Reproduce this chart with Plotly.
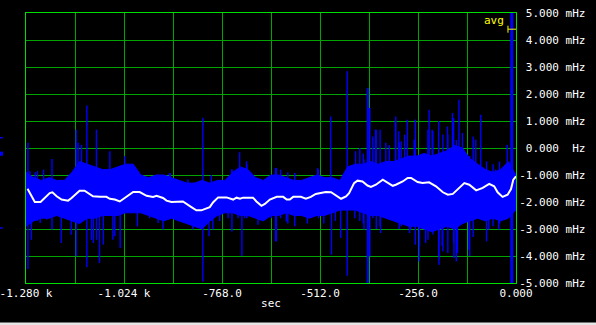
import plotly.graph_objects as go

# ---------------- data ----------------
band_t = [-1280, -1260, -1240, -1220, -1200, -1180, -1160, -1140, -1120, -1100,
          -1080, -1060, -1040, -1020, -1000, -980, -960, -940, -920, -900,
          -880, -860, -840, -820, -800, -780, -760, -740, -720, -700,
          -680, -660, -640, -620, -600, -580, -560, -540, -520, -500,
          -480, -460, -440, -420, -400, -380, -360, -340, -320, -300,
          -280, -260, -240, -220, -200, -180, -160, -140, -120, -100,
          -80, -60, -40, -20, 0]
band_hi = [-0.9, -1.1, -1.2, -1.1, -1.2, -1.2, -0.9, -0.5, -0.6, -0.7,
           -0.8, -0.8, -0.7, -0.6, -0.6, -1.0, -1.1, -1.0, -1.0, -1.1,
           -1.2, -1.3, -1.3, -1.2, -1.3, -1.2, -1.2, -0.9, -0.7, -0.8,
           -1.1, -1.2, -1.0, -1.0, -1.1, -1.2, -1.2, -1.1, -1.0, -1.1,
           -1.1, -1.2, -0.7, -0.6, -0.6, -0.5, -0.6, -0.5, -0.5, -0.4,
           -0.3, -0.3, -0.2, -0.3, -0.2, -0.1, 0.1, 0.0, -0.4, -0.6,
           -0.8, -0.9, -0.8, -0.5, -1.0]
band_lo = [-2.9, -2.7, -2.6, -2.6, -2.5, -2.6, -2.7, -2.8, -2.6, -2.6,
           -2.5, -2.5, -2.5, -2.4, -2.4, -2.4, -2.5, -2.6, -2.7, -2.6,
           -2.7, -2.8, -2.9, -3.0, -2.7, -2.5, -2.4, -2.4, -2.5, -2.5,
           -2.6, -2.7, -2.5, -2.5, -2.4, -2.5, -2.5, -2.6, -2.5, -2.5,
           -2.4, -2.3, -2.3, -2.3, -2.4, -2.5, -2.5, -2.6, -2.7, -2.8,
           -2.9, -2.9, -3.0, -3.1, -3.0, -2.9, -3.0, -2.8, -2.7, -2.6,
           -2.7, -2.6, -2.7, -2.6, -2.3]

# large spikes: time, top, bottom
spike_t = [-1275, -1270, -1266, -1234, -1212, -1188, -1162, -1149, -1144, -1135,
           -1121, -1109, -1096, -1088, -1061, -1053, -1034, -1022, -1007, -989,
           -922, -905, -844, -818, -792, -742, -722, -716, -704, -628,
           -600, -578, -518, -484, -482, -458, -441, -419, -397, -388,
           -386, -382, -367, -354, -340, -314, -306, -284, -275, -266,
           -253, -236, -227, -219, -201, -193, -179, -166, -162, -153,
           -149, -140, -123, -105, -92, -71, -53, -45, -23]
spike_hi = [0.19, -0.86, -1.5, -0.80, -0.41, -1.5, -1.5, 0.68, 0.19, 0.12,
            1.57, -1.5, 0.68, -1.5, -0.12, -1.5, -1.5, -0.31, -0.62, -1.5,
            -1.5, -0.93, -1.5, 1.12, -1.5, -0.80, -0.16, -1.5, -0.49, -0.74,
            -1.5, -0.93, -0.74, 1.17, -1.5, -1.5, 2.84, -0.12, -0.43, 2.22,
            2.22, 1.48, 0.68, -1.5, 0.19, 1.17, 0.62, 1.05, -1.5, 0.31,
            -1.5, -1.5, 1.42, 0.68, -1.5, -1.5, 0.80, 1.30, -1.5, -1.5,
            1.79, 0.56, -1.5, 0.31, 1.23, -1.5, -0.80, -1.5, 0.12]
spike_lo = [-4.48, -1.5, -3.40, -1.5, -3.02, -3.52, -3.21, -4.01, -1.5, -1.5,
            -4.42, -3.40, -3.40, -4.26, -1.5, -3.40, -3.70, -1.5, -1.5, -2.90,
            -3.02, -1.5, -3.02, -4.94, -3.02, -1.5, -1.5, -3.99, -1.5, -3.46,
            -2.72, -1.5, -1.5, -1.5, -3.95, -3.33, -4.73, -1.5, -3.02, -5.0,
            -5.0, -4.01, -1.5, -3.15, -1.5, -1.5, -1.5, -1.5, -3.02, -1.5,
            -4.20, -3.52, -1.5, -1.5, -4.32, -3.64, -1.5, -1.5, -4.07, -3.89,
            -1.5, -1.5, -3.77, -1.5, -1.5, -3.02, -1.5, -3.02, -1.5]

# smaller spikes giving the band its ragged edge: time, top, bottom
minor_t = [-1256, -1250, -1243, -1226, -1104, -1078, -1048, -957, -935, -903,
           -879, -857, -826, -802, -796, -774, -752, -742, -726, -709,
           -703, -674, -661, -639, -626, -615, -596, -578, -545, -516,
           -502, -472, -421, -408, -399, -374, -365, -355, -331, -315,
           -305, -300, -291, -278, -263, -252, -230, -217, -202, -191,
           -178, -163, -156, -121, -112, -77, -60, -43]
minor_hi = [-0.90, -0.86, -1.5, -1.5, -1.5, -1.5, -1.5, -1.11, -0.99, -0.93,
            -1.5, -1.17, -1.5, -1.5, -1.00, -1.5, -1.5, -0.80, -0.90, -0.74,
            -0.60, -1.5, -1.5, -1.00, -0.74, -0.80, -0.90, -1.5, -1.5, -0.80,
            -1.5, -1.5, -0.68, 0.00, -0.20, 0.43, 0.68, 0.68, 0.10, 1.00,
            0.20, 0.24, 0.49, -0.30, 1.05, -0.50, 0.68, 0.62, 1.00, 0.50,
            0.50, 1.11, 0.30, -0.30, 0.43, -0.50, -0.60, -0.50]
minor_lo = [-2.60, -2.70, -2.78, -2.65, -3.52, -3.58, -3.27, -2.60, -2.78, -2.60,
            -2.59, -2.70, -2.90, -3.27, -2.70, -2.70, -2.60, -3.09, -2.60, -2.60,
            -2.60, -2.84, -2.70, -2.60, -3.46, -2.60, -2.80, -2.90, -2.80, -2.60,
            -2.80, -2.70, -2.60, -2.70, -2.80, -2.60, -3.00, -2.90, -2.60, -2.70,
            -3.00, -2.90, -2.80, -3.15, -3.58, -3.64, -3.40, -3.20, -4.00, -3.83,
            -3.89, -3.50, -4.20, -4.00, -3.30, -3.46, -2.90, -2.80]

big_spike_t = [-11]
big_spike_hi = [5.0]
big_spike_lo = [-5.0]

avg_t = [-1276, -1257, -1242, -1236, -1218, -1211, -1200, -1187, -1170, -1161,
         -1140, -1127, -1105, -1087, -1070, -1061, -1048, -1035, -1022, -1000,
         -983, -965, -948, -939, -922, -913, -900, -887, -870, -848,
         -835, -822, -808, -800, -791, -778, -756, -739, -730, -721,
         -713, -687, -678, -665, -656, -643, -625, -608, -599, -591,
         -582, -562, -549, -536, -523, -510, -497, -483, -470, -457,
         -444, -436, -423, -414, -401, -388, -379, -366, -348, -340,
         -322, -314, -296, -283, -274, -257, -244, -227, -209, -191,
         -178, -165, -148, -135, -122, -104, -87, -70, -57, -48,
         -35, -22, -13, -7, 0]
avg_v = [-1.51, -2.00, -2.00, -1.91, -1.67, -1.64, -1.79, -1.91, -1.95, -1.85,
         -1.58, -1.58, -1.79, -1.81, -1.81, -1.88, -1.91, -1.98, -1.85, -1.63,
         -1.63, -1.77, -1.81, -1.77, -1.85, -1.95, -2.00, -1.98, -1.98, -2.19,
         -2.31, -2.31, -2.22, -2.19, -2.01, -1.83, -1.83, -1.91, -1.84, -1.88,
         -1.84, -1.84, -1.98, -2.14, -2.07, -1.91, -1.81, -1.81, -1.91, -1.91,
         -1.81, -1.81, -1.88, -1.81, -1.70, -1.67, -1.63, -1.64, -1.77, -1.88,
         -1.79, -1.67, -1.30, -1.21, -1.24, -1.39, -1.44, -1.36, -1.17, -1.24,
         -1.40, -1.36, -1.24, -1.11, -1.11, -1.26, -1.30, -1.27, -1.42, -1.64,
         -1.73, -1.70, -1.48, -1.30, -1.36, -1.57, -1.48, -1.33, -1.42, -1.64,
         -1.81, -1.73, -1.52, -1.17, -1.05]

x_tickvals = [-1280, -1152, -1024, -896, -768, -640, -512, -384, -256, -128, 0]
x_ticktext = ["-1.280 k", "", "-1.024 k", "", "-768.0", "", "-512.0", "", "-256.0", "", "0.000"]
y_tickvals = [5, 4, 3, 2, 1, 0, -1, -2, -3, -4, -5]
y_ticktext = ["5.000 mHz", "4.000 mHz", "3.000 mHz", "2.000 mHz", "1.000 mHz", "0.000  Hz",
              "-1.000 mHz", "-2.000 mHz", "-3.000 mHz", "-4.000 mHz", "-5.000 mHz"]
avg_window = 21          # seconds, width of the "avg" marker
avg_marker_level = 4.4   # mHz
left_marks = [0.38, -0.21, -2.96]
left_mark_h = [0.05, 0.15, 0.05]

# ---------------- styling ----------------
W, H = 596, 325
ML, MR, MT, MB = 26, 80, 13, 42
PW, PH = W - ML - MR, H - MT - MB
BLUE = "#0000ff"
GRID = "#00a400"
BORDER = "#00e000"
FONT = "DejaVu Sans Mono"
FS = 11

fig = go.Figure()

# dense noise band
fig.add_trace(go.Scatter(x=band_t, y=band_hi, mode="lines",
                         line=dict(color=BLUE, width=1), hoverinfo="skip"))
fig.add_trace(go.Scatter(x=band_t, y=band_lo, mode="lines", fill="tonexty",
                         fillcolor=BLUE, line=dict(color=BLUE, width=1), hoverinfo="skip"))


def segs(ts, his, los):
    xs, ys = [], []
    for t, hi, lo in zip(ts, his, los):
        xs += [t, t, None]
        ys += [lo, hi, None]
    return xs, ys


mx, my = segs(minor_t, minor_hi, minor_lo)
fig.add_trace(go.Scatter(x=mx, y=my, mode="lines", line=dict(color=BLUE, width=1.4),
                         hoverinfo="skip"))
sx, sy = segs(spike_t, spike_hi, spike_lo)
fig.add_trace(go.Scatter(x=sx, y=sy, mode="lines", line=dict(color=BLUE, width=1.4),
                         hoverinfo="skip"))
bx, by = segs(big_spike_t, big_spike_hi, big_spike_lo)
fig.add_trace(go.Scatter(x=bx, y=by, mode="lines", line=dict(color=BLUE, width=3),
                         hoverinfo="skip"))

# average
fig.add_trace(go.Scatter(x=avg_t, y=avg_v, mode="lines", line=dict(color="white", width=2),
                         hoverinfo="skip"))

nb = "\u00a0"
y_text = [(nb + s if not s.startswith("-") else s).replace("  ", nb + nb) for s in y_ticktext]

fig.update_layout(
    width=W, height=H, showlegend=False,
    margin=dict(l=ML, r=MR, t=MT, b=MB, pad=0, autoexpand=False),
    paper_bgcolor="black", plot_bgcolor="black",
    font=dict(family=FONT, size=FS, color="white"),
    xaxis=dict(range=[-1280, 0], tickmode="array", tickvals=x_tickvals, ticktext=x_ticktext,
               showgrid=True, gridcolor=GRID, gridwidth=1, zeroline=False, automargin=False,
               showline=True, linecolor=BORDER, linewidth=1, mirror=True,
               ticklabeloverflow="allow",
               ticks="", tickfont=dict(family=FONT, size=FS, color="white"),
               title=dict(text="sec", font=dict(family=FONT, size=FS, color="white"), standoff=0)),
    yaxis=dict(range=[-5, 5], side="right", tickmode="array", tickvals=y_tickvals, ticktext=y_text,
               showgrid=True, gridcolor=GRID, gridwidth=1, zeroline=False, automargin=False,
               showline=True, linecolor=BORDER, linewidth=1, mirror=True,
               ticklabeloverflow="allow",
               ticks="", tickfont=dict(family=FONT, size=FS, color="white")),
)

# avg label & marker
fig.add_annotation(x=-avg_window - 6, y=1.0 - 7.5 / PH, xref="x", yref="paper",
                   text="avg", showarrow=False, xanchor="right", yanchor="middle",
                   font=dict(family=FONT, size=FS, color="#ffff00"))
fig.add_shape(type="line", xref="x", yref="y", x0=-avg_window, x1=0,
              y0=avg_marker_level, y1=avg_marker_level, line=dict(color="#ffff00", width=1))
fig.add_shape(type="line", xref="x", yref="y", x0=-avg_window, x1=-avg_window,
              y0=avg_marker_level - 0.13, y1=avg_marker_level + 0.13, line=dict(color="#ffff00", width=1))

# small blue marks at the left edge
for v, h in zip(left_marks, left_mark_h):
    fig.add_shape(type="rect", xref="paper", yref="y", x0=-ML / PW, x1=(3 - ML) / PW,
                  y0=v - h / 2, y1=v + h / 2, fillcolor=BLUE, line=dict(width=0), layer="above")

# light strip at the bottom of the window
fig.add_shape(type="rect", xref="paper", yref="paper", x0=-ML / PW, x1=1 + MR / PW,
              y0=-(MB) / PH, y1=-(MB - 2.5) / PH, fillcolor="#e6e6e6", line=dict(width=0))

fig.write_html("out.html")
